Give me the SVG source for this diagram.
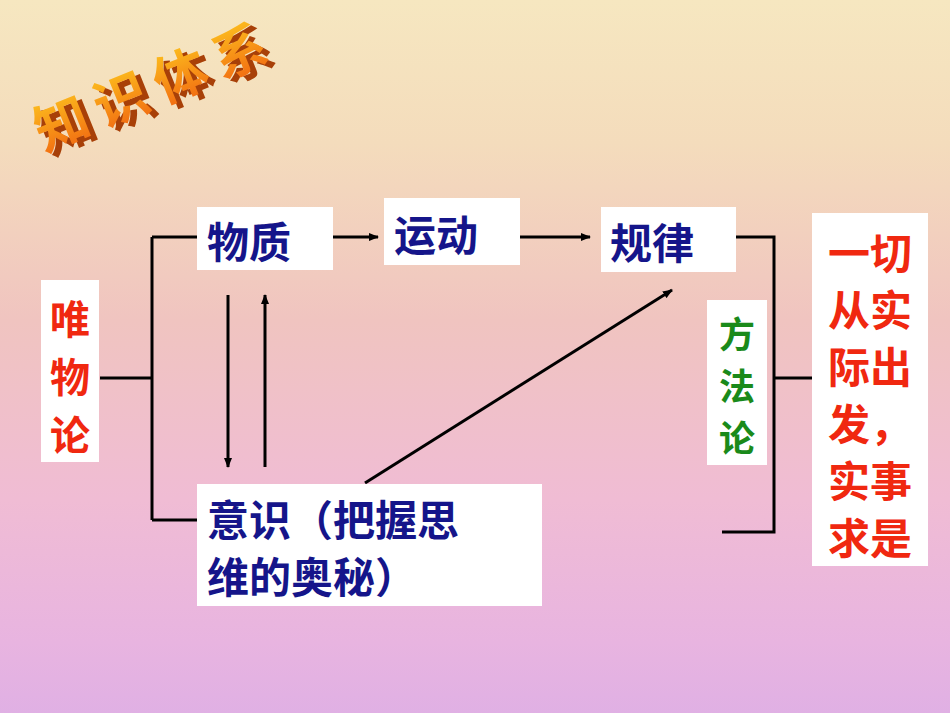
<svg xmlns="http://www.w3.org/2000/svg" width="950" height="713" viewBox="0 0 950 713">
<defs>
<linearGradient id="bg" x1="0" y1="0" x2="0" y2="1">
<stop offset="0" stop-color="#f6e7c0"/>
<stop offset="0.2" stop-color="#f4dcbc"/>
<stop offset="0.45" stop-color="#f0c4c0"/>
<stop offset="0.7" stop-color="#f0bcd4"/>
<stop offset="0.9" stop-color="#e8b4e0"/>
<stop offset="1" stop-color="#e0b0e4"/>
</linearGradient>
<linearGradient id="tg" x1="0" y1="0" x2="0" y2="1">
<stop offset="0" stop-color="#ffd020"/>
<stop offset="1" stop-color="#f06010"/>
</linearGradient>
<marker id="ah" markerWidth="10" markerHeight="8" refX="9" refY="4" orient="auto" markerUnits="userSpaceOnUse">
<path d="M0,0 L10,4 L0,8 Z" fill="#000"/>
</marker>
</defs>
<style>
.box{fill:#fff}
.t{font-family:"Noto Sans CJK SC","Liberation Sans",sans-serif;font-weight:bold}
.blue{fill:#15158a;font-size:42px}
.red{fill:#f02810}
.green{fill:#1a8a1a;font-size:36px}
.ln{stroke:#000;stroke-width:3;fill:none}
.ar{stroke:#000;stroke-width:3;fill:none;marker-end:url(#ah)}
</style>
<rect width="950" height="713" fill="url(#bg)"/>
<g id="title" transform="translate(44,152) rotate(-22)">
<text class="t" x="5" y="6" font-size="54" fill="#a84008" letter-spacing="10">知识体系</text>
<text class="t" x="0" y="0" font-size="54" fill="url(#tg)" letter-spacing="10">知识体系</text>
</g>
<g id="connectors">
<path class="ln" d="M100,378 H152 M152,237 V520 M152,237 H197 M152,520 H197"/>
<path class="ar" d="M333,237 H378"/>
<path class="ar" d="M520,237 H590"/>
<path class="ln" d="M736,237 H774 V532 H722 M774,378 H812"/>
<path class="ar" d="M228,295 V467"/>
<path class="ar" d="M265,467 V295"/>
<path class="ar" d="M365,483 L672,290"/>
</g>
<g id="n-weiwulun"><rect class="box" x="41" y="280" width="58" height="182"/>
<text class="t red" font-size="40" x="50" y="334">唯</text><text class="t red" font-size="40" x="50" y="392">物</text><text class="t red" font-size="40" x="50" y="450">论</text></g>
<g id="n-wuzhi"><rect class="box" x="197" y="207" width="136" height="63"/><text class="t blue" x="207" y="258">物质</text></g>
<g id="n-yundong"><rect class="box" x="384" y="198" width="136" height="67"/><text class="t blue" x="394" y="251">运动</text></g>
<g id="n-guilv"><rect class="box" x="601" y="207" width="135" height="65"/><text class="t blue" x="610" y="259">规律</text></g>
<g id="n-yishi"><rect class="box" x="197" y="484" width="345" height="122"/>
<text class="t blue" x="207" y="536">意识（把握思</text><text class="t blue" x="207" y="593">维的奥秘）</text></g>
<g id="n-fangfa"><rect class="box" x="707" y="300" width="60" height="165"/>
<text class="t green" x="719" y="348">方</text><text class="t green" x="719" y="400">法</text><text class="t green" x="719" y="452">论</text></g>
<g id="n-right"><rect class="box" x="812" y="213" width="116" height="353"/>
<g class="t red" font-size="42">
<text x="828" y="269">一切</text><text x="828" y="326">从实</text><text x="828" y="383">际出</text>
<text x="828" y="440">发，</text><text x="828" y="497">实事</text><text x="828" y="554">求是</text></g></g>
</svg>
